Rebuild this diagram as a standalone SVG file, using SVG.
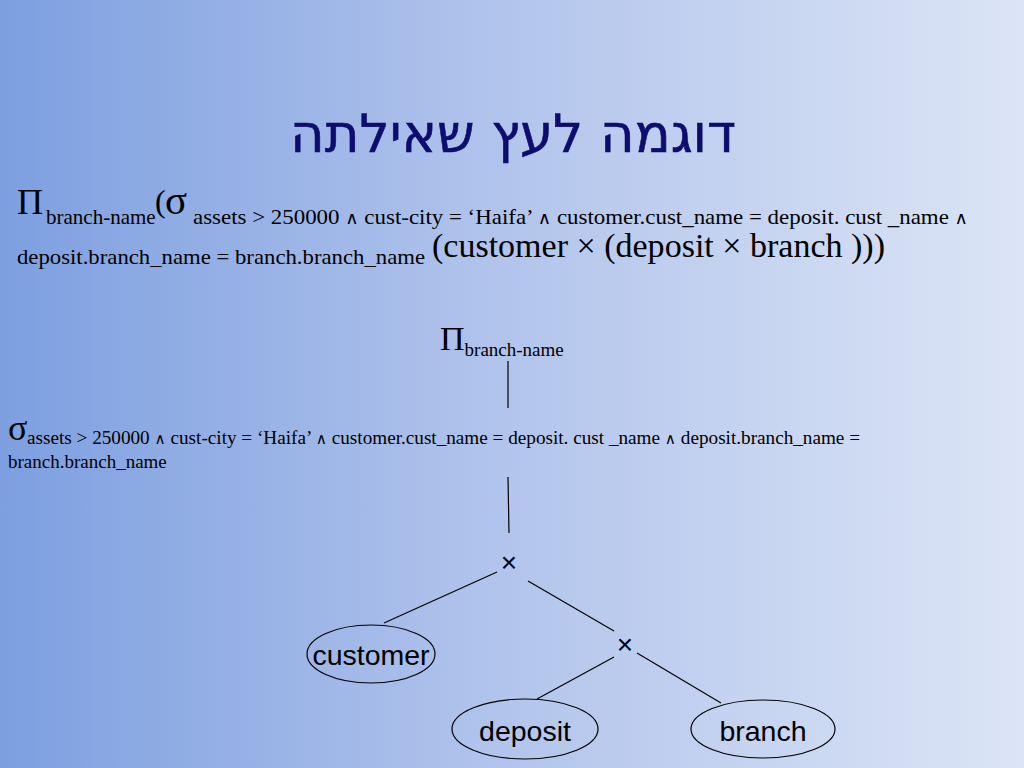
<svg xmlns="http://www.w3.org/2000/svg" width="1024" height="768" viewBox="0 0 1024 768">
<defs>
<linearGradient id="bg" x1="0" y1="0" x2="1" y2="0">
<stop offset="0" stop-color="#7d9fe0"/>
<stop offset="0.5" stop-color="#b3c5ec"/>
<stop offset="1" stop-color="#dce5f6"/>
</linearGradient>
<style>
.ser{font-family:"Liberation Serif","DejaVu Serif",serif;fill:#000}
.san{font-family:"Liberation Sans","DejaVu Sans",sans-serif;fill:#000}
.and{font-family:"DejaVu Sans",sans-serif;font-size:0.8em}
.edge{stroke:#000;stroke-width:1.2;fill:none}
.ell{fill:none;stroke:#000;stroke-width:1.2}
</style>
</defs>
<rect width="1024" height="768" fill="url(#bg)"/>
<g id="title">
<text x="513" y="152" text-anchor="middle" font-family="'DejaVu Sans','Liberation Sans',sans-serif" font-size="53" fill="#0d0d70" stroke="#0d0d70" stroke-width="0.6" direction="rtl">דוגמה לעץ שאילתה</text>
</g>
<g id="expression">
<text class="ser" x="17" y="214" font-size="36">Π</text>
<text class="ser" x="46" y="224" font-size="21">branch-name</text>
<text class="ser" x="155" y="212" font-size="32">(</text>
<text class="ser" x="165" y="214" font-size="41">σ</text>
<text class="ser" x="193" y="224" font-size="21.5" textLength="775" lengthAdjust="spacingAndGlyphs">assets &gt; 250000 <tspan class="and">∧</tspan> cust-city = ‘Haifa’ <tspan class="and">∧</tspan> customer.cust_name = deposit. cust _name <tspan class="and">∧</tspan></text>
<text class="ser" x="17" y="264" font-size="22" textLength="408" lengthAdjust="spacingAndGlyphs">deposit.branch_name = branch.branch_name</text>
<text class="ser" x="432" y="257" font-size="33" textLength="453" lengthAdjust="spacingAndGlyphs">(customer × (deposit × branch )))</text>
</g>
<g id="connectors">
<line class="edge" x1="508" y1="361" x2="508" y2="408"/>
<line class="edge" x1="508" y1="477" x2="509" y2="533"/>
<line class="edge" x1="497" y1="572" x2="384" y2="623"/>
<line class="edge" x1="528" y1="581" x2="614" y2="631"/>
<line class="edge" x1="614" y1="657" x2="537" y2="699"/>
<line class="edge" x1="637" y1="653" x2="721" y2="703"/>
</g>
<g id="project">
<text class="ser" x="440" y="350" font-size="34">Π<tspan font-size="19" dy="6">branch-name</tspan></text>
</g>
<g id="select">
<text class="ser" x="8" y="440" font-size="36">σ</text>
<text class="ser" x="27" y="444" font-size="19" textLength="833" lengthAdjust="spacingAndGlyphs">assets &gt; 250000 <tspan class="and">∧</tspan> cust-city = ‘Haifa’ <tspan class="and">∧</tspan> customer.cust_name = deposit. cust _name <tspan class="and">∧</tspan> deposit.branch_name =</text>
<text class="ser" x="8" y="468" font-size="19">branch.branch_name</text>
</g>
<g id="product1">
<text class="san" x="509" y="572" font-size="28" text-anchor="middle">×</text>
</g>
<g id="product2">
<text class="san" x="625" y="654" font-size="28" text-anchor="middle">×</text>
</g>
<g id="customer">
<ellipse class="ell" cx="371" cy="654" rx="64" ry="29"/>
<text class="san" x="371" y="665" font-size="28.5" text-anchor="middle">customer</text>
</g>
<g id="deposit">
<ellipse class="ell" cx="525" cy="729" rx="73" ry="30"/>
<text class="san" x="525" y="741" font-size="28.5" text-anchor="middle">deposit</text>
</g>
<g id="branch">
<ellipse class="ell" cx="763" cy="729" rx="72" ry="29"/>
<text class="san" x="763" y="741" font-size="28.5" text-anchor="middle">branch</text>
</g>
</svg>
